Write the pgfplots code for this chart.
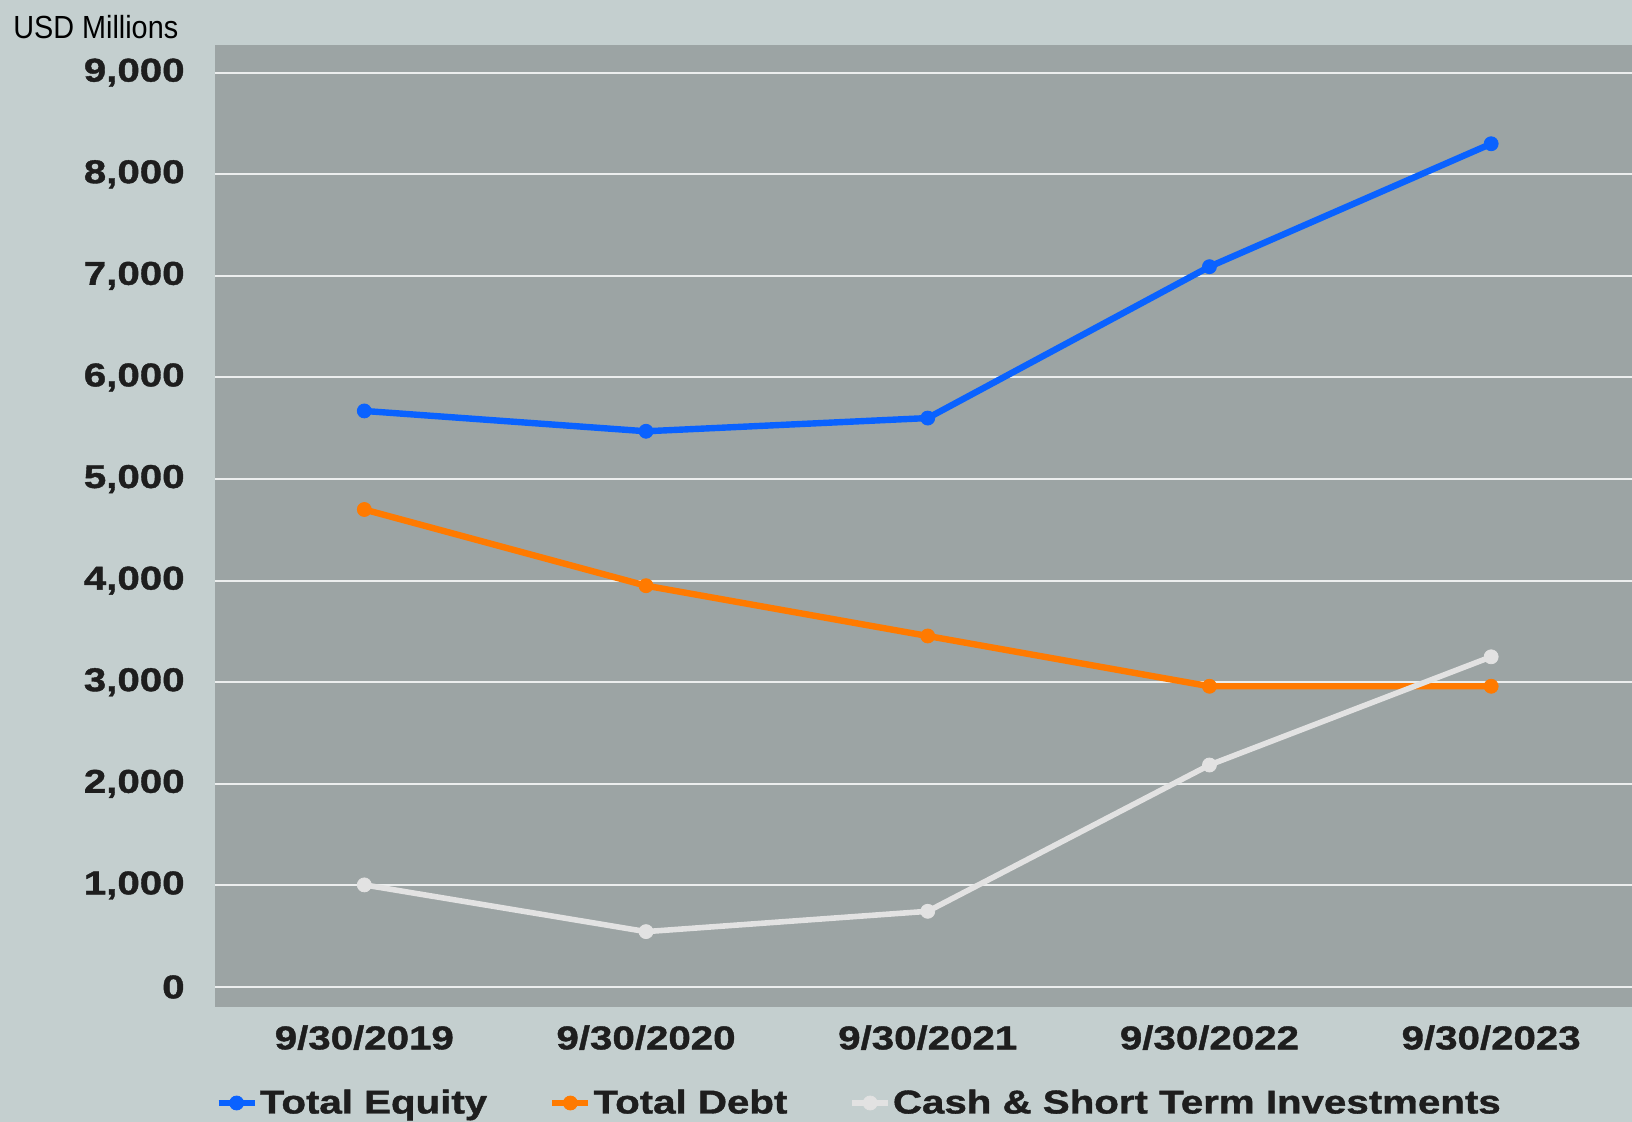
\documentclass[border=0pt]{standalone}
\usepackage{fontspec}
\setmainfont{Liberation Sans}
\newfontfamily\widefont[FakeStretch=1.22, FakeBold=1.2]{Liberation Sans}
\newfontfamily\narrowfont[FakeStretch=0.9]{Liberation Sans}
\usepackage{pgfplots}
\pgfplotsset{compat=1.18}

\definecolor{outerbg}{HTML}{C4CFCF}
\definecolor{plotbg}{HTML}{9CA4A4}
\definecolor{gridc}{HTML}{ECEEEE}
\definecolor{eqc}{HTML}{0A62FF}
\definecolor{debtc}{HTML}{FF7A00}
\definecolor{cashc}{HTML}{E2E2E2}
\newcommand{\lbl}{\widefont\bfseries\fontsize{16.5}{18}\selectfont\color[HTML]{1E1E1E}}

\begin{document}
\begin{tikzpicture}
\fill[outerbg] (0,0) rectangle (816pt,-561pt);
\node[anchor=base west, inner sep=0pt, font=\narrowfont\fontsize{16}{18}\selectfont] at (6.5pt,-19.5pt) {USD Millions};
\begin{axis}[
    at={(107.5pt,-503.5pt)}, anchor=south west,
    scale only axis, width=708.5pt, height=481pt,
    xmin=-0.53, xmax=4.5, ymin=-197, ymax=9272,
    xtick={0,1,2,3,4},
    xticklabels={9/30/2019,9/30/2020,9/30/2021,9/30/2022,9/30/2023},
    ytick={0,1000,...,9000},
    axis background/.style={fill=plotbg},
    axis line style={draw=none},
    major tick length=0pt,
    ymajorgrids, grid style={gridc, line width=1pt},
    tick label style={font=\lbl},
    yticklabel style={anchor=east, inner sep=0pt, xshift=-15pt},
    xticklabel style={anchor=north, inner sep=0pt, yshift=-9pt},
    /pgf/number format/1000 sep={,},
    /pgf/number format/assume math mode=true,
    legend columns=-1,
    legend style={at={(0,-0.0998)}, anchor=west, draw=none, fill=none,
        font=\lbl, inner sep=0pt, nodes={inner sep=1pt},
        /tikz/every even column/.append style={column sep=30pt}},
    legend image code/.code={\draw[mark repeat=2,mark phase=2,#1]
        plot coordinates {(0pt,0pt) (9pt,0pt) (18pt,0pt)};},
    every axis plot/.append style={line width=3.2pt, line join=round, mark=*, mark size=3.5pt},
]
\addplot[color=eqc, mark options={line width=0.4pt}] coordinates {
    (0,5670) (1,5470) (2,5600) (3,7090) (4,8300)
};
\addlegendentry{Total Equity}
\addplot[color=debtc, mark options={line width=0.4pt}] coordinates {
    (0,4700) (1,3950) (2,3455) (3,2960) (4,2960)
};
\addlegendentry{Total Debt}
\addplot[color=cashc, line width=2.8pt, mark options={line width=0.4pt}] coordinates {
    (0,1005) (1,545) (2,745) (3,2185) (4,3250)
};
\addlegendentry{Cash \& Short Term Investments}
\end{axis}
\pgfresetboundingbox
\path[use as bounding box] (0,0) rectangle (816pt,-561pt);
\end{tikzpicture}
\end{document}
